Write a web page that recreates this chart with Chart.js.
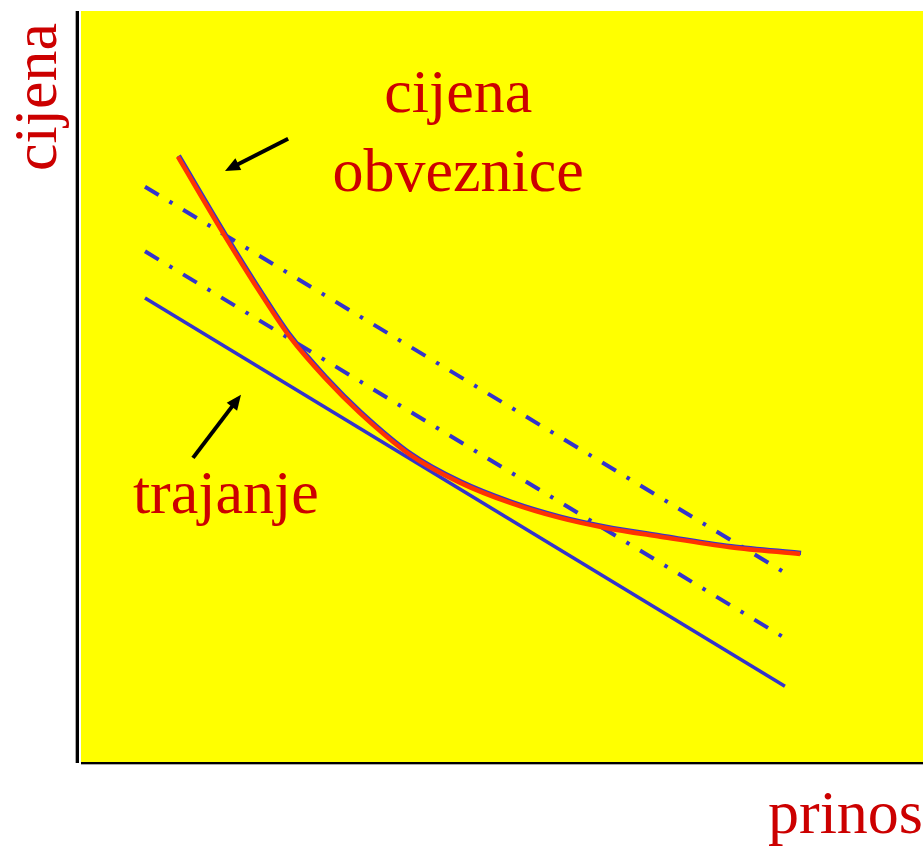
<!DOCTYPE html>
<html>
<head>
<meta charset="utf-8">
<script src="https://cdn.jsdelivr.net/npm/chart.js@4/dist/chart.umd.min.js"></script>
<style>
  html, body { margin: 0; padding: 0; background: #fff; }
  #wrap { width: 923px; height: 848px; position: relative; }
</style>
</head>
<body>
<div id="wrap"><canvas id="chart" width="923" height="848"></canvas></div>
<script>
// ── DATA (yield on x, price on y, arbitrary units 0..100) ─────────
const bondYield  = [11.5, 17.1, 21.5, 24.8, 29.0, 33.1, 39.1, 45.0, 51.0, 56.9, 62.2, 68.8, 77.1, 85.4];
const bondPrice  = [80.6, 70.0, 62.1, 56.6, 51.1, 46.5, 40.9, 37.2, 34.5, 32.5, 31.2, 30.0, 28.6, 27.7];

const lineYield  = [7.6, 83.6];
const tangentY   = [61.8, 10.1];   // duration (tangent) line
const shiftedY1  = [76.6, 25.2];   // upper dash-dot line
const shiftedY2  = [68.0, 16.5];   // lower dash-dot line

const axisTitleX = "prinos";
const axisTitleY = "cijena";
const curveLabel = ["cijena", "obveznice"];
const lineLabel  = "trajanje";

// annotation anchors, in data units
const notes = {
  curveText: { x: 44.8, y: [86.5, 76.0] },
  lineText:  { x: 17.2, y: 33.2 },
  curveArrow: { from: [24.6, 83.0], to: [17.1, 78.7] },
  lineArrow:  { from: [13.3, 40.5], to: [19.0, 48.9] },
};

const BLUE = "#3333cc", RED = "#ff3300", TXT = "#cc0000", YEL = "#ffff00";
const SERIF = "'Liberation Serif','Times New Roman',serif";

const pts = (xs, ys) => xs.map((x, i) => ({ x, y: ys[i] }));

// ── plugins ──────────────────────────────────────────────────────
const backdrop = {
  id: "backdrop",
  beforeDraw(chart) {
    const { ctx, chartArea: a } = chart;
    ctx.save();
    ctx.fillStyle = YEL;
    ctx.fillRect(a.left, a.top, a.right - a.left, a.bottom - a.top);
    // axis lines, with their faint grey shadow
    ctx.fillStyle = "#aaaaaa";
    ctx.fillRect(a.left - 6, a.top, 1, a.bottom - a.top + 1);
    ctx.fillRect(a.left, a.bottom + 2, a.right - a.left, 1);
    ctx.fillStyle = "#000";
    ctx.fillRect(a.left - 5, a.top, 3, a.bottom - a.top + 1);
    ctx.fillRect(a.left, a.bottom, a.right - a.left, 2);
    ctx.restore();
  },
  // nudge the blue edge under the red curve up-right a touch
  beforeDatasetDraw(chart, args) {
    if (args.index === 3) { chart.ctx.save(); chart.ctx.translate(1, -1); }
  },
  afterDatasetDraw(chart, args) {
    if (args.index === 3) chart.ctx.restore();
  },
};

function arrow(ctx, x0, y0, x1, y1) {
  const ang = Math.atan2(y1 - y0, x1 - x0);
  const len = 15, half = 6.5;
  const bx = x1 - Math.cos(ang) * len, by = y1 - Math.sin(ang) * len;
  ctx.beginPath();
  ctx.moveTo(x0, y0);
  ctx.lineTo(bx + Math.cos(ang) * 2, by + Math.sin(ang) * 2);
  ctx.lineWidth = 4;
  ctx.strokeStyle = "#000";
  ctx.stroke();
  ctx.beginPath();
  ctx.moveTo(x1, y1);
  ctx.lineTo(bx + Math.sin(ang) * half, by - Math.cos(ang) * half);
  ctx.lineTo(bx - Math.sin(ang) * half, by + Math.cos(ang) * half);
  ctx.closePath();
  ctx.fillStyle = "#000";
  ctx.fill();
}

const labels = {
  id: "labels",
  afterDraw(chart) {
    const { ctx, scales: { x, y } } = chart;
    ctx.save();
    ctx.fillStyle = TXT;
    ctx.font = `62px ${SERIF}`;
    ctx.textAlign = "center";
    ctx.textBaseline = "alphabetic";

    curveLabel.forEach((t, i) =>
      ctx.fillText(t, x.getPixelForValue(notes.curveText.x), y.getPixelForValue(notes.curveText.y[i])));
    ctx.fillText(lineLabel, x.getPixelForValue(notes.lineText.x), y.getPixelForValue(notes.lineText.y));

    // axis titles
    ctx.textAlign = "right";
    ctx.fillText(axisTitleX, 923, 833);
    ctx.translate(56, 97);
    ctx.rotate(-Math.PI / 2);
    ctx.textAlign = "center";
    ctx.fillText(axisTitleY, 0, 0);
    ctx.restore();

    ctx.save();
    for (const k of ["curveArrow", "lineArrow"]) {
      const n = notes[k];
      arrow(ctx,
        x.getPixelForValue(n.from[0]), y.getPixelForValue(n.from[1]),
        x.getPixelForValue(n.to[0]),   y.getPixelForValue(n.to[1]));
    }
    ctx.restore();
  },
};

// ── chart ────────────────────────────────────────────────────────
const dashDot = [16, 12.5, 3.5, 12.5];

new Chart(document.getElementById("chart"), {
  type: "line",
  data: {
    datasets: [
      { data: pts(lineYield, shiftedY1), borderColor: BLUE, borderWidth: 4,
        borderDash: dashDot, pointRadius: 0, order: 3 },
      { data: pts(lineYield, shiftedY2), borderColor: BLUE, borderWidth: 4,
        borderDash: dashDot, pointRadius: 0, order: 3 },
      { data: pts(lineYield, tangentY), borderColor: BLUE, borderWidth: 3.5, pointRadius: 0, order: 2 },
      { data: pts(bondYield, bondPrice), borderColor: BLUE, borderWidth: 4.5, pointRadius: 0,
        cubicInterpolationMode: "monotone", order: 1 },
      { data: pts(bondYield, bondPrice), borderColor: RED, borderWidth: 4.5, pointRadius: 0,
        cubicInterpolationMode: "monotone", order: 0 },
    ],
  },
  options: {
    responsive: false,
    animation: false,
    layout: { padding: { left: 81, top: 11, right: 0, bottom: 86 } },
    plugins: { legend: { display: false }, tooltip: { enabled: false } },
    scales: {
      x: { type: "linear", display: false, min: 0, max: 100 },
      y: { type: "linear", display: false, min: 0, max: 100 },
    },
  },
  plugins: [backdrop, labels],
});
</script>
</body>
</html>
